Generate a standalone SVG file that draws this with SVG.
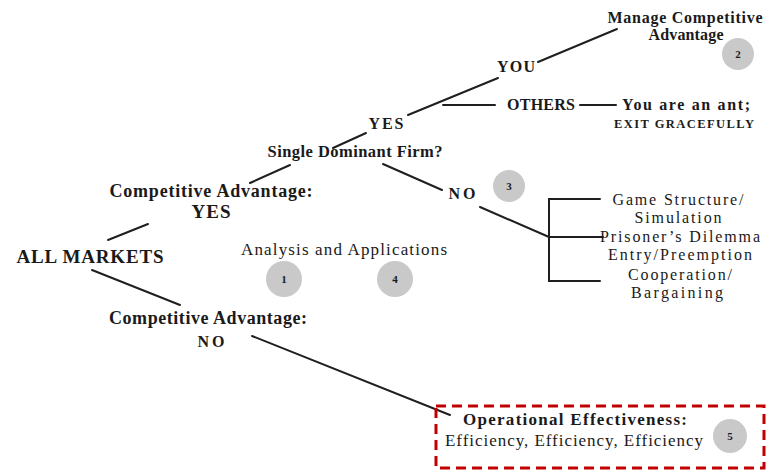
<svg xmlns="http://www.w3.org/2000/svg" width="774" height="472" viewBox="0 0 774 472">
<style>
text{font-family:"Liberation Serif","Times New Roman",serif;fill:#1a1a1a;text-anchor:middle}
.b{font-weight:bold}
.num{font-size:11px;font-weight:bold}
.bub{fill:#c9c9c9}
.ln{stroke:#1f1f1f;stroke-width:2;fill:none;stroke-linecap:round}
.lst{font-size:16px}
</style>
<rect width="774" height="472" fill="#ffffff"/>
<g id="connectors" class="ln">
<line x1="108" y1="240" x2="148" y2="224"/>
<line x1="92" y1="270" x2="180" y2="305"/>
<line x1="250" y1="183" x2="290" y2="165"/>
<line x1="333" y1="148" x2="366" y2="133"/>
<line x1="408" y1="115" x2="498" y2="78"/>
<line x1="538" y1="62" x2="617" y2="29"/>
<line x1="443" y1="105" x2="495" y2="105"/>
<line x1="580" y1="105" x2="616" y2="105"/>
<line x1="383" y1="164" x2="442" y2="190"/>
<line x1="480" y1="207" x2="549" y2="237"/>
<polyline points="600,199 549,199 549,281 600,281"/>
<line x1="549" y1="237" x2="603" y2="237"/>
<line x1="252" y1="336" x2="450" y2="415"/>
</g>
<g id="n-all"><text class="b" x="90" y="263" font-size="19" textLength="147">ALL MARKETS</text></g>
<g id="n-cayes"><text class="b" x="211" y="197" font-size="18" textLength="203">Competitive Advantage:</text>
<text class="b" x="211" y="218" font-size="19" textLength="39">YES</text></g>
<g id="n-sdf"><text class="b" x="355" y="157" font-size="16.5" textLength="175">Single Dominant Firm?</text></g>
<g id="n-yes"><text class="b" x="386" y="129" font-size="16" textLength="35">YES</text></g>
<g id="n-you"><text class="b" x="516" y="72" font-size="16" textLength="38">YOU</text></g>
<g id="n-manage"><text class="b" x="685" y="23" font-size="16" textLength="155">Manage Competitive</text>
<text class="b" x="686" y="40" font-size="16" textLength="75">Advantage</text>
<circle class="bub" cx="738" cy="54" r="16"/><text class="num" x="738" y="58">2</text></g>
<g id="n-others"><text class="b" x="541" y="110" font-size="16" textLength="68">OTHERS</text></g>
<g id="n-ant"><text class="b" x="686" y="110" font-size="16" textLength="128">You are an ant;</text>
<text class="b" x="684" y="128" font-size="12.5" textLength="140">EXIT GRACEFULLY</text></g>
<g id="n-no"><text class="b" x="462" y="199" font-size="16" textLength="27">NO</text>
<circle class="bub" cx="509" cy="186" r="16"/><text class="num" x="509" y="190">3</text></g>
<g id="n-game"><text class="lst" x="678" y="205" textLength="131">Game Structure/</text>
<text class="lst" x="678" y="223" textLength="87">Simulation</text>
<text class="lst" x="680" y="242" textLength="160">Prisoner’s Dilemma</text>
<text class="lst" x="680" y="260" textLength="144">Entry/Preemption</text>
<text class="lst" x="680" y="280" textLength="104">Cooperation/</text>
<text class="lst" x="677" y="298" textLength="92">Bargaining</text></g>
<g id="n-analysis"><text x="344" y="255" font-size="17" textLength="206">Analysis and Applications</text>
<circle class="bub" cx="284" cy="279" r="18"/><text class="num" x="284" y="283">1</text>
<circle class="bub" cx="395" cy="279" r="18"/><text class="num" x="395" y="283">4</text></g>
<g id="n-cano"><text class="b" x="208" y="324" font-size="18" textLength="198">Competitive Advantage:</text>
<text class="b" x="211" y="347" font-size="16" textLength="27">NO</text></g>
<g id="n-oper"><rect x="436" y="406" width="328" height="62" fill="none" stroke="#c00000" stroke-width="3" stroke-dasharray="10,6"/>
<text class="b" x="575" y="425" font-size="17" textLength="224">Operational Effectiveness:</text>
<text x="574" y="446" font-size="17" textLength="258">Efficiency, Efficiency, Efficiency</text>
<circle class="bub" cx="730" cy="436" r="17"/><text class="num" x="730" y="440">5</text></g>
</svg>
